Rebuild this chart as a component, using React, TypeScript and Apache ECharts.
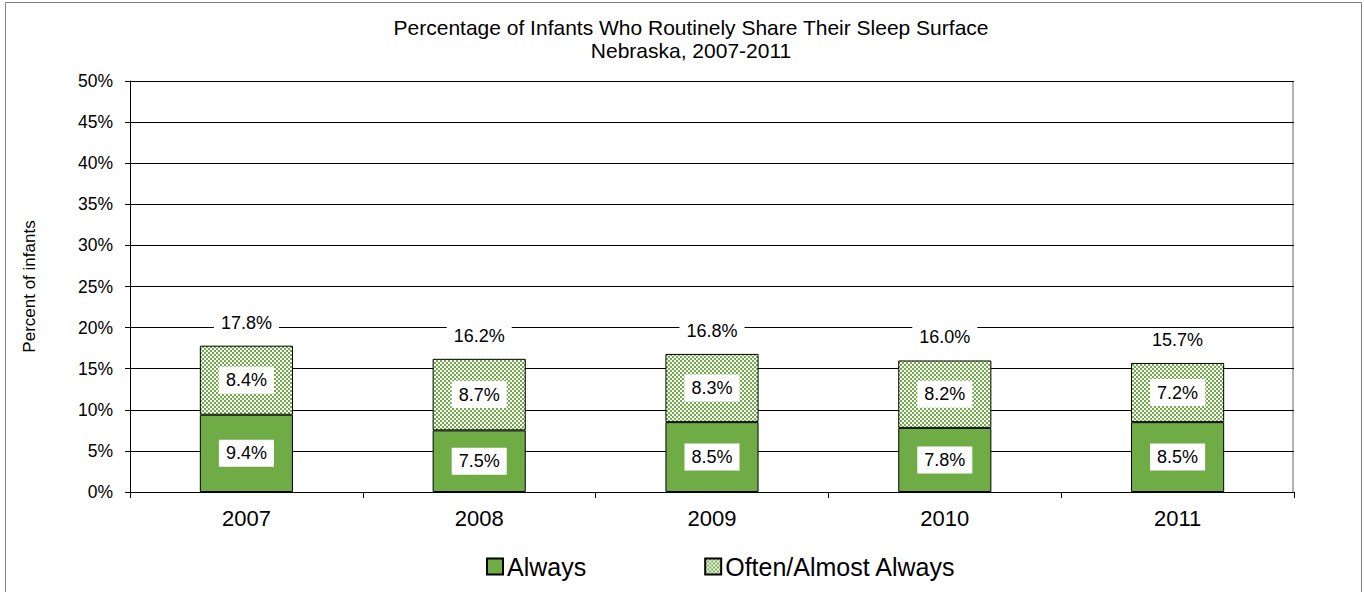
import React, { useEffect, useRef } from "react";
import * as echarts from "echarts";

const years = ["2007", "2008", "2009", "2010", "2011"];
const always = [9.4, 7.5, 8.5, 7.8, 8.5];
const often = [8.4, 8.7, 8.3, 8.2, 7.2];
const totals = [17.8, 16.2, 16.8, 16.0, 15.7];
const yTicks = { min: 0, max: 50, interval: 5 };

const GREEN = "#6FAC46";
const FONT = "Liberation Sans, Arial, sans-serif";

function makePattern() {
  const c = document.createElement("canvas");
  c.width = 4;
  c.height = 4;
  const ctx = c.getContext("2d")!;
  ctx.fillStyle = "#ffffff";
  ctx.fillRect(0, 0, 4, 4);
  ctx.fillStyle = GREEN;
  ctx.fillRect(0, 0, 2, 2);
  ctx.fillRect(2, 2, 2, 2);
  return c;
}

export default function App() {
  const ref = useRef<HTMLDivElement>(null);
  useEffect(() => {
    if (!ref.current) return;
    const chart = echarts.init(ref.current, null, { renderer: "svg" });
    const pattern = { image: makePattern(), repeat: "repeat" as const };
    const innerLabel = {
      show: true,
      position: "inside" as const,
      formatter: (p: any) => p.value.toFixed(1) + "%",
      backgroundColor: "#ffffff",
      padding: [5, 7, 4, 7],
      fontSize: 18,
      color: "#000",
      fontFamily: FONT,
    };
    const titleStyle = {
      fontSize: 21,
      fontWeight: "normal" as const,
      color: "#000",
      fontFamily: FONT,
    };
    chart.setOption({
      animation: false,
      backgroundColor: "#ffffff",
      textStyle: { fontFamily: FONT },
      title: [
        {
          text: "Percentage of Infants Who Routinely Share Their Sleep Surface",
          left: 691,
          top: 17,
          padding: 0,
          textAlign: "center",
          textStyle: titleStyle,
        },
        {
          text: "Nebraska, 2007-2011",
          left: 691,
          top: 39.5,
          padding: 0,
          textAlign: "center",
          textStyle: titleStyle,
        },
      ],
      legend: {
        left: 486,
        top: 554,
        padding: 0,
        itemWidth: 16,
        itemHeight: 16,
        itemGap: 118,
        icon: "rect",
        textStyle: { fontSize: 25, color: "#000", fontFamily: FONT, padding: [0, 0, 0, -1] },
        data: ["Always", "Often/Almost Always"],
      },
      grid: { left: 130, right: 70, top: 81, bottom: 100 },
      xAxis: {
        type: "category",
        data: years,
        axisLine: { lineStyle: { color: "#000", width: 1 } },
        axisTick: { show: true, length: 6, lineStyle: { color: "#000" } },
        axisLabel: { fontSize: 22, color: "#000", margin: 15, fontFamily: FONT },
      },
      yAxis: {
        type: "value",
        min: yTicks.min,
        max: yTicks.max,
        interval: yTicks.interval,
        name: "Percent of infants",
        nameLocation: "middle",
        nameRotate: 90,
        nameGap: 92,
        nameTextStyle: { fontSize: 17, color: "#000", fontFamily: FONT },
        axisLine: { show: true, lineStyle: { color: "#000", width: 1 } },
        axisTick: { show: true, length: 5, lineStyle: { color: "#000" } },
        axisLabel: { formatter: "{value}%", fontSize: 17.5, color: "#000", margin: 17, fontFamily: FONT },
        splitLine: { show: true, lineStyle: { color: "#000", width: 1 } },
      },
      graphic: [
        {
          type: "rect",
          shape: { x: 5.5, y: 2.5, width: 1356, height: 620 },
          style: { fill: "none", stroke: "#808080", lineWidth: 1 },
          z: 0,
        },
        {
          type: "line",
          shape: { x1: 1293, y1: 81, x2: 1293, y2: 492 },
          style: { stroke: "#b4b4b4", lineWidth: 2 },
          z: 0,
        },
      ],
      series: [
        {
          name: "Always",
          type: "bar",
          stack: "a",
          barWidth: "40%",
          data: always,
          itemStyle: { color: GREEN, borderColor: "#000", borderWidth: 1 },
          label: innerLabel,
        },
        {
          name: "Often/Almost Always",
          type: "bar",
          stack: "a",
          data: often,
          itemStyle: { color: pattern, borderColor: "#000", borderWidth: 1 },
          label: innerLabel,
        },
        {
          name: "Total",
          type: "bar",
          stack: "a",
          data: totals.map(() => 0),
          itemStyle: { color: "transparent", borderWidth: 0 },
          label: {
            show: true,
            position: "top",
            distance: 11,
            formatter: (p: any) => totals[p.dataIndex].toFixed(1) + "%",
            backgroundColor: "#ffffff",
            padding: [3, 7, 3, 7],
            fontSize: 18,
            color: "#000",
            fontFamily: FONT,
          },
        },
      ],
    });
    return () => chart.dispose();
  }, []);
  return (
    <div
      ref={ref}
      style={{ position: "absolute", left: 0, top: 0, width: 1364, height: 592 }}
    />
  );
}
